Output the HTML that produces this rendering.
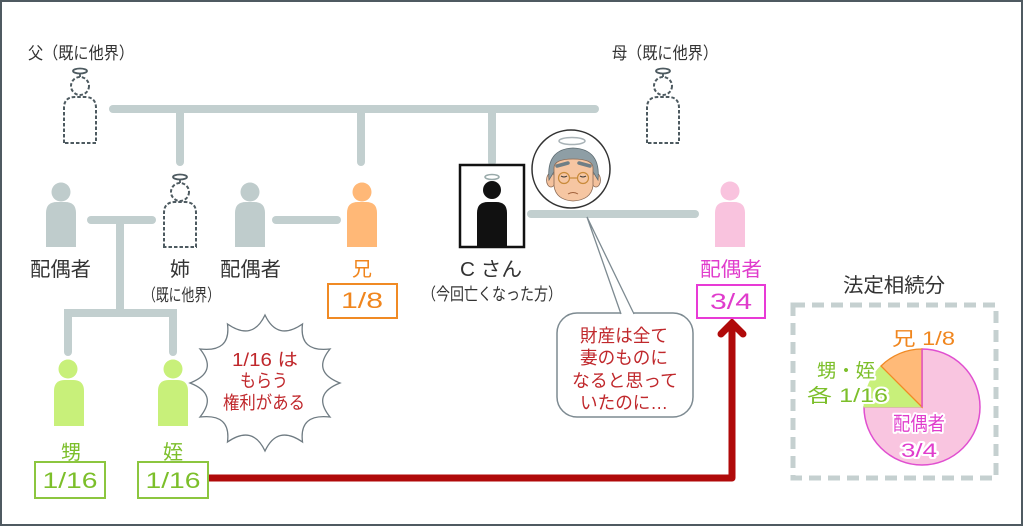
<!DOCTYPE html>
<html><head><meta charset="utf-8">
<style>
html,body{margin:0;padding:0;background:#fff;}
svg{display:block;}
text{font-family:"Liberation Sans","Noto Sans CJK JP",sans-serif;}
</style></head>
<body>
<svg width="1024" height="527" viewBox="0 0 1024 527" xmlns="http://www.w3.org/2000/svg">
<rect x="1" y="1" width="1021" height="524" fill="#fff" stroke="#4f5a61" stroke-width="2"/>

<!-- gray connectors -->
<g stroke="#c2cfcf" stroke-width="8" stroke-linecap="round" fill="none">
  <line x1="113" y1="109" x2="595" y2="109"/>
  <line x1="180" y1="109" x2="180" y2="162"/>
  <line x1="361" y1="109" x2="361" y2="162"/>
  <line x1="492" y1="109" x2="492" y2="162"/>
  <line x1="91" y1="220" x2="152" y2="220"/>
  <line x1="120" y1="220" x2="120" y2="313"/>
  <line x1="276" y1="220" x2="337" y2="220"/>
  <line x1="531" y1="214" x2="695" y2="214"/>
  <polyline points="68,352 68,313 173,313 173,352" stroke-linejoin="miter" stroke-linecap="round"/>
</g>

<!-- dashed deceased figures -->
<g fill="none" stroke="#4d5a60" stroke-width="2" stroke-dasharray="3.5 2">
  <circle cx="80" cy="86" r="9"/>
  <path d="M64,143 L64,108 Q64,97 75,97 L85,97 Q96,97 96,108 L96,143 Z"/>
  <circle cx="663" cy="86" r="9"/>
  <path d="M647,143 L647,108 Q647,97 658,97 L668,97 Q679,97 679,108 L679,143 Z"/>
  <circle cx="180" cy="192" r="9"/>
  <path d="M164,247 L164,213 Q164,202 175,202 L185,202 Q196,202 196,213 L196,247 Z"/>
</g>
<g fill="none" stroke="#4d5a60" stroke-width="1.8">
  <ellipse cx="80" cy="71" rx="7" ry="2.5"/><line x1="80" y1="73.5" x2="80" y2="77"/>
  <ellipse cx="663" cy="71" rx="7" ry="2.5"/><line x1="663" y1="73.5" x2="663" y2="77"/>
  <ellipse cx="180" cy="177" rx="7" ry="2.5"/><line x1="180" y1="179.5" x2="180" y2="183"/>
</g>

<!-- solid figures -->
<g fill="#bfcccc">
  <circle cx="61" cy="192" r="9.5"/>
  <path d="M46,247 L46,213 Q46,202 57,202 L65,202 Q76,202 76,213 L76,247 Z"/>
  <circle cx="250" cy="192" r="9.5"/>
  <path d="M235,247 L235,213 Q235,202 246,202 L254,202 Q265,202 265,213 L265,247 Z"/>
</g>
<g fill="#ffb877">
  <circle cx="362" cy="192" r="9.5"/>
  <path d="M347,247 L347,213 Q347,202 358,202 L366,202 Q377,202 377,213 L377,247 Z"/>
</g>
<g fill="#f9c3de">
  <circle cx="730" cy="191" r="9.5"/>
  <path d="M715,247 L715,213 Q715,202 726,202 L734,202 Q745,202 745,213 L745,247 Z"/>
</g>
<g fill="#c8f07a">
  <circle cx="68" cy="369" r="9.5"/>
  <path d="M54,426 L54,391 Q54,380 65,380 L73,380 Q84,380 84,391 L84,426 Z"/>
  <circle cx="173" cy="369" r="9.5"/>
  <path d="M158,426 L158,391 Q158,380 169,380 L177,380 Q188,380 188,391 L188,426 Z"/>
</g>

<!-- C box -->
<rect x="460" y="165" width="64" height="82" fill="#fff" stroke="#111" stroke-width="2.5"/>
<ellipse cx="492" cy="177" rx="7" ry="2.5" fill="none" stroke="#9aa" stroke-width="1.5"/>
<circle cx="492" cy="190" r="9" fill="#111"/>
<path d="M477,247 L477,213 Q477,202 488,202 L496,202 Q507,202 507,213 L507,247 Z" fill="#111"/>

<!-- face circle -->
<circle cx="571" cy="169" r="39" fill="#fff" stroke="#333" stroke-width="1.5"/>
<ellipse cx="572" cy="141" rx="13" ry="3.5" fill="none" stroke="#a8b2b6" stroke-width="1.5"/>
<ellipse cx="551" cy="180" rx="4.5" ry="7" fill="#f4c19c" stroke="#8a6a55" stroke-width="0.8"/>
<ellipse cx="596" cy="180" rx="4.5" ry="7" fill="#f4c19c" stroke="#8a6a55" stroke-width="0.8"/>
<path d="M549,180 Q546,149 573,148 Q601,149 598,180 L592,170 L555,170 Z" fill="#8e9ea5" stroke="#5e6c72" stroke-width="0.8"/>
<path d="M554,168 Q554,159 573,159 Q593,159 593,168 L593,186 Q591,200 573,201 Q556,200 554,186 Z" fill="#f6c6a2" stroke="#8a6a55" stroke-width="0.8"/>
<path d="M557,166 L568,163 M579,163 L590,166" stroke="#6f7f86" stroke-width="3.5" stroke-linecap="round"/>
<circle cx="564" cy="178" r="5.5" fill="none" stroke="#c88a3a" stroke-width="1.2"/>
<circle cx="583" cy="178" r="5.5" fill="none" stroke="#c88a3a" stroke-width="1.2"/>
<line x1="569.5" y1="178" x2="577.5" y2="178" stroke="#c88a3a" stroke-width="1.2"/>
<path d="M561,176 Q564,178 567,176 M580,176 Q583,178 586,176" stroke="#333" stroke-width="1" fill="none"/>
<path d="M568,194 Q573,191 578,194" stroke="#a0603a" stroke-width="1" fill="none"/>

<!-- speech bubble -->
<rect x="557" y="313" width="136" height="104" rx="20" ry="20" fill="#fff" stroke="#7d8a91" stroke-width="1.5"/>
<path d="M621,314 L587,217 L634,314" fill="#fff" stroke="#7d8a91" stroke-width="1.3"/>
<line x1="622" y1="314" x2="633" y2="314" stroke="#fff" stroke-width="2.5"/>

<!-- burst -->
<path d="M340,383 Q311.4,394.1 330,417 Q298.9,413.4 302.5,442 Q277.4,424.5 265,451 Q252.6,424.5 227.5,442 Q231.1,413.4 200,417 Q218.6,394.1 190,383 Q218.6,371.9 200,349 Q231.1,352.6 227.5,324 Q252.6,341.5 265,315 Q277.4,341.5 302.5,324 Q298.9,352.6 330,349 Q311.4,371.9 340,383 Z" fill="#fff" stroke="#6f7b82" stroke-width="1.3"/>

<!-- red arrow -->
<polyline points="208,478 732,478 732,326" fill="none" stroke="#b00a0a" stroke-width="7" stroke-linejoin="round"/>
<polyline points="721,334 732,323 743,334" fill="none" stroke="#b00a0a" stroke-width="7" stroke-linecap="round" stroke-linejoin="miter"/>

<!-- share boxes -->
<rect x="328" y="284" width="69" height="34" fill="#fff" stroke="#f08a24" stroke-width="2"/>
<rect x="697" y="285" width="68" height="33" fill="#fff" stroke="#e83ad6" stroke-width="2"/>
<rect x="35" y="462" width="70" height="36" fill="#fff" stroke="#8cc63f" stroke-width="2"/>
<rect x="138" y="462" width="70" height="36" fill="#fff" stroke="#8cc63f" stroke-width="2"/>

<!-- pie panel -->
<rect x="793" y="305" width="203" height="173" fill="none" stroke="#c5d0d0" stroke-width="5" stroke-dasharray="12 7"/>
<path d="M922,407 L922,349 A58,58 0 1,1 864,407 Z" fill="#f9c5e0" stroke="#e04fd0" stroke-width="1.5"/>
<path d="M922,407 L864,407 A58,58 0 0,1 881,366 Z" fill="#c8f07a" stroke="#c8f07a" stroke-width="1"/>
<path d="M922,407 L881,366 A58,58 0 0,1 922,349 Z" fill="#ffba78" stroke="#f08a24" stroke-width="1.3"/>
<line x1="922" y1="349" x2="922" y2="407" stroke="#e04fd0" stroke-width="1.3"/>

<!-- texts -->
<g fill="#333">
  <text x="28" y="59" font-size="17" textLength="106" lengthAdjust="spacingAndGlyphs">父（既に他界）</text>
  <text x="612" y="59" font-size="17" textLength="106" lengthAdjust="spacingAndGlyphs">母（既に他界）</text>
  <text x="30" y="276" font-size="20" textLength="61" lengthAdjust="spacingAndGlyphs">配偶者</text>
  <text x="180" y="276" font-size="20" text-anchor="middle">姉</text>
  <text x="220" y="276" font-size="20" textLength="61" lengthAdjust="spacingAndGlyphs">配偶者</text>
  <text x="143" y="301" font-size="17" textLength="77" lengthAdjust="spacingAndGlyphs">（既に他界）</text>
  <text x="460" y="276" font-size="20" textLength="62" lengthAdjust="spacingAndGlyphs">C さん</text>
  <text x="422" y="300" font-size="17" textLength="140" lengthAdjust="spacingAndGlyphs">（今回亡くなった方）</text>
  <text x="843" y="292" font-size="20" textLength="102" lengthAdjust="spacingAndGlyphs">法定相続分</text>
</g>
<text x="362" y="276" font-size="20" text-anchor="middle" fill="#f0861e">兄</text>
<text x="700" y="276" font-size="20" textLength="62" lengthAdjust="spacingAndGlyphs" fill="#e03ccc">配偶者</text>
<text x="362" y="308" font-size="22" text-anchor="middle" fill="#f0861e" textLength="42" lengthAdjust="spacingAndGlyphs">1/8</text>
<text x="731" y="309" font-size="22" text-anchor="middle" fill="#e03ccc" textLength="42" lengthAdjust="spacingAndGlyphs">3/4</text>
<text x="71" y="459" font-size="20" text-anchor="middle" fill="#7cbf2a">甥</text>
<text x="173" y="459" font-size="20" text-anchor="middle" fill="#7cbf2a">姪</text>
<text x="70" y="488" font-size="22" text-anchor="middle" fill="#7cbf2a" textLength="55" lengthAdjust="spacingAndGlyphs">1/16</text>
<text x="173" y="488" font-size="22" text-anchor="middle" fill="#7cbf2a" textLength="55" lengthAdjust="spacingAndGlyphs">1/16</text>

<g fill="#c0282c" font-size="18" text-anchor="middle">
  <text x="265" y="366" textLength="66" lengthAdjust="spacingAndGlyphs">1/16 は</text>
  <text x="264" y="387" textLength="48" lengthAdjust="spacingAndGlyphs">もらう</text>
  <text x="264" y="409" textLength="82" lengthAdjust="spacingAndGlyphs">権利がある</text>
</g>
<g fill="#c0282c" font-size="18" text-anchor="middle">
  <text x="624" y="342" textLength="88" lengthAdjust="spacingAndGlyphs">財産は全て</text>
  <text x="624" y="364" textLength="88" lengthAdjust="spacingAndGlyphs">妻のものに</text>
  <text x="625" y="387" textLength="106" lengthAdjust="spacingAndGlyphs">なると思って</text>
  <text x="624" y="409" textLength="88" lengthAdjust="spacingAndGlyphs">いたのに…</text>
</g>

<g font-size="19" stroke="#fff" stroke-width="4" paint-order="stroke" stroke-linejoin="round">
  <text x="892" y="345" fill="#f0861e" textLength="63" lengthAdjust="spacingAndGlyphs">兄 1/8</text>
  <text x="817" y="377" fill="#7cbf2a" textLength="58" lengthAdjust="spacingAndGlyphs">甥・姪</text>
  <text x="807" y="402" fill="#7cbf2a" textLength="81" lengthAdjust="spacingAndGlyphs">各 1/16</text>
  <text x="919" y="430" fill="#e03ccc" text-anchor="middle" textLength="52" lengthAdjust="spacingAndGlyphs">配偶者</text>
  <text x="919" y="457" fill="#e03ccc" text-anchor="middle" textLength="36" lengthAdjust="spacingAndGlyphs">3/4</text>
</g>
</svg>
</body></html>
